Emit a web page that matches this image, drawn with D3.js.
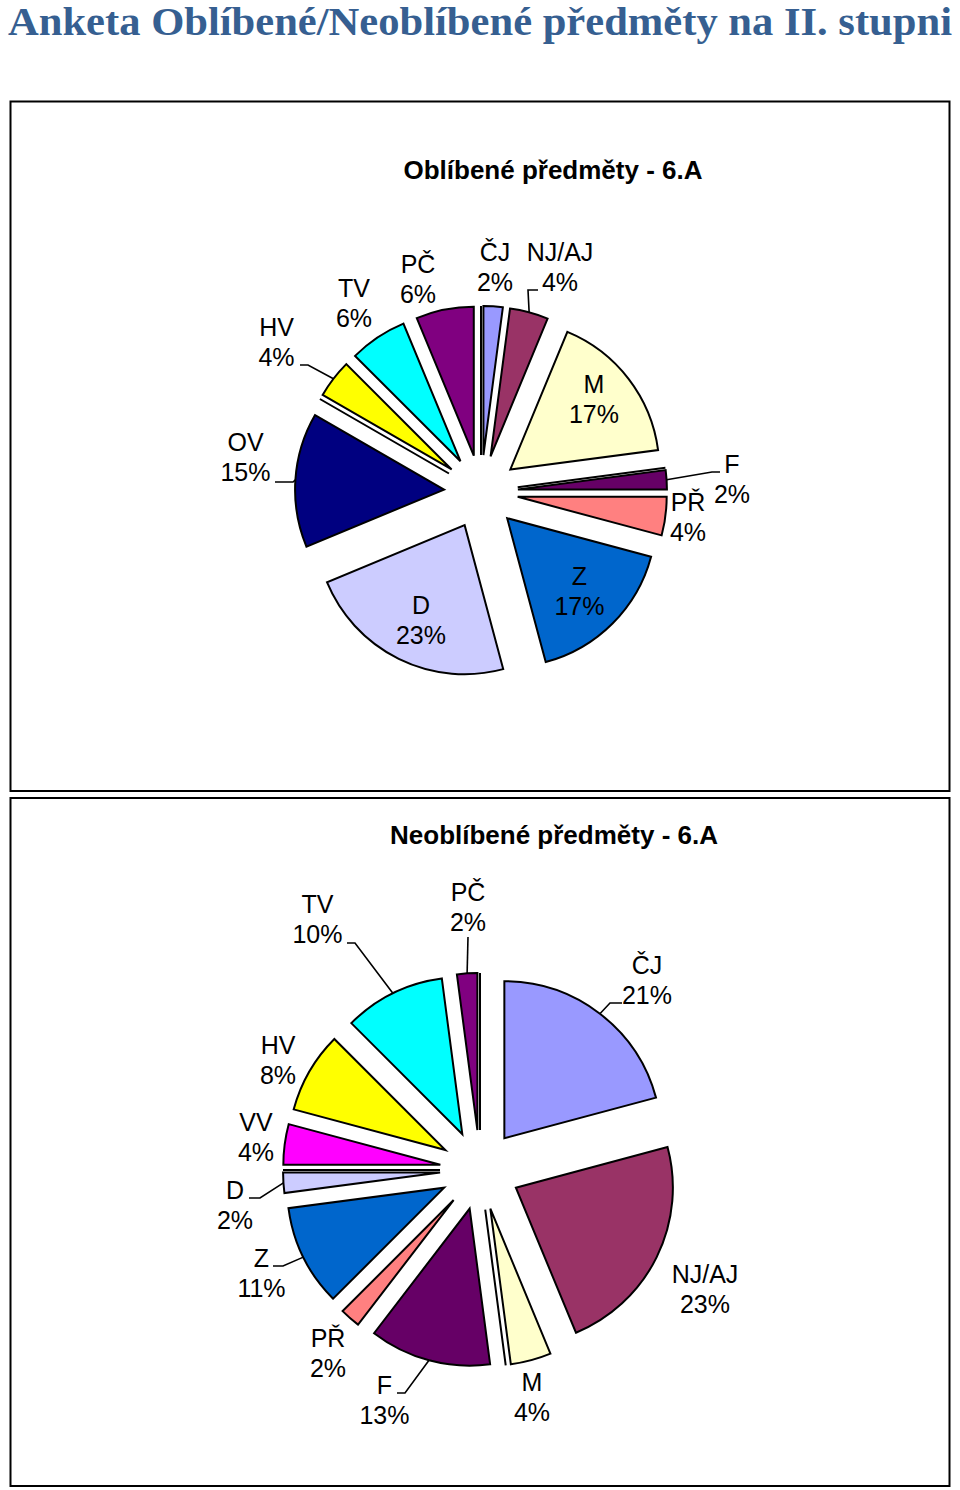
<!DOCTYPE html>
<html><head><meta charset="utf-8">
<script src="https://cdn.jsdelivr.net/npm/d3@7"></script>
<style>body{margin:0;background:#fff}svg{display:block}</style>
</head><body>
<svg id="c" width="960" height="1490"></svg>
<script>
// ---------- DATA ----------
const mainTitle = "Anketa Oblíbené/Neoblíbené předměty na II. stupni";
const categories = ["ČJ","NJ/AJ","M","CH","F","PŘ","Z","D","OV","VV","HV","TV","PČ","INF"];
const favouriteValues   = [1, 2, 8, 0, 1, 2, 8, 11, 7, 0, 2, 3, 3, 0];
const unfavouriteValues = [10, 11, 2, 0, 6, 1, 5, 1, 0, 2, 4, 5, 1, 0];
const favouriteTitle = "Oblíbené předměty - 6.A";
const unfavouriteTitle = "Neoblíbené předměty - 6.A";

// ---------- STYLE ----------
const colors = ["#9999FF","#993366","#FFFFCC","#CCFFFF","#660066","#FF8080","#0066CC",
                "#CCCCFF","#000080","#FF00FF","#FFFF00","#00FFFF","#800080","#800000"];

// ---------- LAYOUT ----------
const charts = [
  { title: favouriteTitle, values: favouriteValues,
    panel: {x:10.5, y:101.5, w:939, h:689.5}, titleX: 553, titleY: 179,
    cx: 481, cy: 492, r: 149, off: 37,
    labels: { "ČJ":[495,252], "NJ/AJ":[560,252], "M":[594,384], "F":[732,463.5], "PŘ":[688,502],
              "Z":[579.5,576], "D":[421,605], "OV":[245.5,442], "HV":[276.5,327], "TV":[354,288], "PČ":[418,264] },
    leaders: { "NJ/AJ":[[538,290],[528,290]], "HV":[[300,365],[308,365]], "OV":[[275,482],[293,482]], "F":[[720,472],[712,472]] }
  },
  { title: unfavouriteTitle, values: unfavouriteValues,
    panel: {x:10.5, y:798, w:939, h:688}, titleX: 554, titleY: 844,
    cx: 480, cy: 1170, r: 157, off: 40,
    labels: { "PČ":[468,892], "ČJ":[647,965], "TV":[317.5,904], "HV":[278,1045], "VV":[256,1122], "D":[235,1190],
              "Z":[261.5,1258], "PŘ":[328,1338], "F":[384.5,1385], "M":[532,1382], "NJ/AJ":[705,1274] },
    leaders: { "PČ":[[468,937]], "ČJ":[[622,1003],[610,1003]], "TV":[[347,943],[355,943]], "D":[[249,1198],[260,1198]],
               "Z":[[273,1266],[283,1266]], "F":[[397,1393],[405,1393]] }
  }
];

const svg = d3.select("#c");
const sansFont = "'Liberation Sans', Arial, Helvetica, sans-serif";

svg.append("text")
  .attr("x", 8).attr("y", 35)
  .attr("textLength", 944).attr("lengthAdjust", "spacingAndGlyphs")
  .style("font-family", "'Liberation Serif','DejaVu Serif',serif")
  .style("font-weight", "bold").style("font-size", "39px")
  .attr("fill", "#365F91")
  .text(mainTitle);

// Excel-style percentages (largest remainder so they sum to 100)
function percents(vals){
  const total = d3.sum(vals);
  const raw = vals.map(v => v / total * 100);
  const fl = raw.map(Math.floor);
  let rest = 100 - d3.sum(fl);
  const order = raw.map((v,i)=>i).filter(i=>vals[i]>0)
    .sort((a,b)=> (raw[b]-fl[b]) - (raw[a]-fl[a]) || a-b);
  for (let k=0;k<rest && k<order.length;k++) fl[order[k]] += 1;
  return fl;
}

charts.forEach(cfg => {
  const g = svg.append("g");
  g.append("rect")
    .attr("x", cfg.panel.x).attr("y", cfg.panel.y)
    .attr("width", cfg.panel.w).attr("height", cfg.panel.h)
    .attr("fill", "#fff").attr("stroke", "#000").attr("stroke-width", 2);

  g.append("text")
    .attr("x", cfg.titleX).attr("y", cfg.titleY)
    .attr("text-anchor", "middle")
    .style("font-family", sansFont).style("font-weight", "bold").style("font-size", "26px")
    .text(cfg.title);

  const data = categories.map((c,i)=>({cat:c, v:cfg.values[i], color:colors[i]}));
  const pie = d3.pie().sort(null).value(d=>d.v).startAngle(0).endAngle(2*Math.PI);
  const arcs = pie(data);
  const arc = d3.arc().innerRadius(0).outerRadius(cfg.r);
  const pct = percents(cfg.values);

  g.selectAll("path.slice").data(arcs).enter().append("path")
    .attr("class","slice")
    .attr("d", arc)
    .attr("transform", a => {
      const m = (a.startAngle + a.endAngle)/2;
      return `translate(${cfg.cx + cfg.off*Math.sin(m)},${cfg.cy - cfg.off*Math.cos(m)})`;
    })
    .attr("fill", a => a.data.color)
    .attr("stroke", "#000").attr("stroke-width", 2)
    .attr("stroke-linejoin", "miter");

  // leader lines
  arcs.forEach((a,i) => {
    const pts = cfg.leaders[a.data.cat];
    if (!pts || a.data.v === 0) return;
    const m = (a.startAngle + a.endAngle)/2;
    const rr = cfg.off + cfg.r;
    const end = [cfg.cx + rr*Math.sin(m), cfg.cy - rr*Math.cos(m)];
    g.append("path")
      .attr("d", d3.line()(pts.concat([end])))
      .attr("fill","none").attr("stroke","#000").attr("stroke-width",1.6);
  });

  // labels
  arcs.forEach((a,i) => {
    if (a.data.v === 0) return;
    const p = cfg.labels[a.data.cat];
    if (!p) return;
    const t = g.append("text")
      .attr("text-anchor","middle")
      .style("font-family", sansFont).style("font-size","25px").attr("fill","#000");
    t.append("tspan").attr("x", p[0]).attr("y", p[1] + 9).text(a.data.cat);
    t.append("tspan").attr("x", p[0]).attr("y", p[1] + 39).text(pct[i] + "%");
  });
});
</script>
</body></html>
